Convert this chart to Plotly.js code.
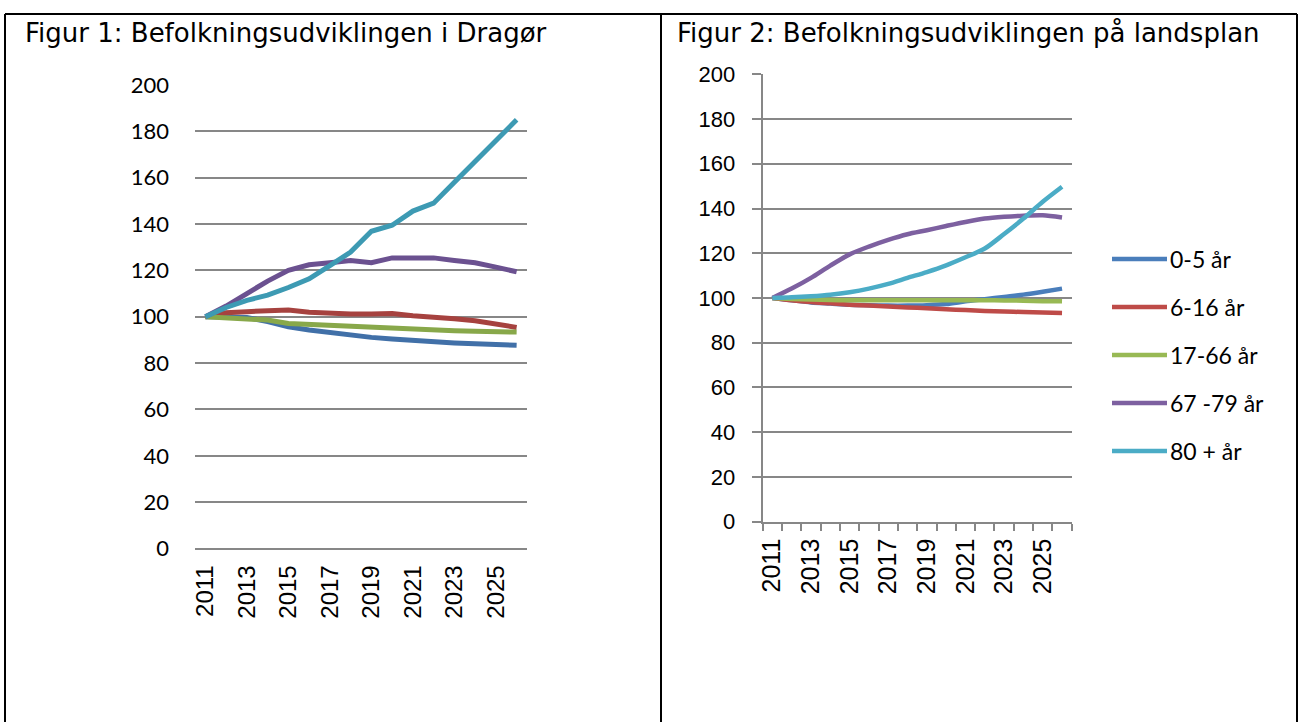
<!DOCTYPE html>
<html>
<head>
<meta charset="utf-8">
<script src="https://cdn.plot.ly/plotly-3.0.1.min.js"></script>
<style>
html,body{margin:0;padding:0;background:#fff;}
#chart{width:1300px;height:722px;}
</style>
</head>
<body>
<div id="chart"></div>
<script>
// ---- data ----
const years = [2011,2012,2013,2014,2015,2016,2017,2018,2019,2020,2021,2022,2023,2024,2025,2026];
const labelYears = [2011,2013,2015,2017,2019,2021,2023,2025];
const seriesNames = ['0-5 år','6-16 år','17-66 år','67 -79 år','80 + år'];
const yTicks = [0,20,40,60,80,100,120,140,160,180,200];

// Figur 1: Dragør
const dragor_0_5   = [100,100,99.7,97.9,95.7,94.3,93.1,92.0,91.1,90.4,89.7,89.1,88.7,88.3,88.0,87.7];
const dragor_6_16  = [100,101.7,102.2,102.8,102.9,101.9,101.4,101.2,101.2,101.4,100.4,100.0,99.1,98.3,96.9,95.4];
const dragor_17_66 = [100,99.7,99.4,98.6,97.1,96.7,96.3,95.9,95.4,94.7,94.7,94.3,94.0,93.7,93.6,93.4];
const dragor_67_79 = [100,104.6,110.0,115.4,120.0,122.4,123.3,124.3,123.3,125.4,125.4,125.4,124.3,123.3,121.4,119.4];
const dragor_80    = [100,104.0,107.1,109.3,112.6,116.4,122.1,127.9,136.9,139.5,145.6,149.0,158.0,167.0,176.0,185.0];

// Figur 2: landsplan
const land_0_5   = [100,99.0,98.0,97.5,97.0,96.8,96.6,96.6,96.8,97.3,98.5,99.5,100.5,101.5,102.8,104.2];
const land_6_16  = [100,99.0,98.2,97.6,97.0,96.6,96.2,95.8,95.4,95.0,94.6,94.2,94.0,93.7,93.5,93.3];
const land_17_66 = [100,99.6,99.3,99.1,99.0,99.0,99.0,99.0,99.0,99.0,99.0,99.0,98.9,98.8,98.6,98.5];
const land_67_79 = [100,104.2,109.0,114.5,119.5,123.0,126.0,128.5,130.3,132.2,134.0,135.5,136.3,136.8,137.0,136.0];
const land_80    = [100,100.3,100.8,101.5,102.6,104.2,106.3,109.0,111.6,114.6,118.2,122.1,128.6,135.5,143.0,149.7];

const titles = ['Figur 1: Befolkningsudviklingen i Dragør','Figur 2: Befolkningsudviklingen på landsplan'];

// ---- styles ----
const leftColors  = ['#4170A8','#A6423F','#88A84A','#6B5190','#3D9AB3'];
const rightColors = ['#4A7EBB','#BE4B48','#98B954','#7D60A0','#4BACC6'];
const gridColor = '#878787';

const dragorSeries = [dragor_0_5, dragor_6_16, dragor_17_66, dragor_67_79, dragor_80];
const landSeries   = [land_0_5, land_6_16, land_17_66, land_67_79, land_80];

const traces = [];
dragorSeries.forEach((vals, i) => {
  traces.push({
    x: years, y: vals, name: seriesNames[i], type: 'scatter', mode: 'lines',
    xaxis: 'x', yaxis: 'y', showlegend: false,
    line: {color: leftColors[i], width: 5, shape: 'linear'}
  });
});
landSeries.forEach((vals, i) => {
  traces.push({
    x: years, y: vals, name: seriesNames[i], type: 'scatter', mode: 'lines',
    xaxis: 'x2', yaxis: 'y2', showlegend: false,
    line: {color: rightColors[i], width: 4.5, shape: 'spline', smoothing: 0.8}
  });
});

const W = 1300, H = 722;
const px = v => v / W;
const py = v => 1 - v / H;

const boundaries = [];
for (let i = 0; i <= years.length; i++) boundaries.push(years[0] - 0.5 + i);

const shapes = [
  // table borders
  {type:'line', xref:'paper', yref:'paper', x0:px(5), x1:px(1297), y0:py(14), y1:py(14), line:{color:'#000', width:2}},
  {type:'line', xref:'paper', yref:'paper', x0:px(5), x1:px(5), y0:py(14), y1:py(722), line:{color:'#000', width:2}},
  {type:'line', xref:'paper', yref:'paper', x0:px(661), x1:px(661), y0:py(14), y1:py(722), line:{color:'#000', width:2}},
  {type:'line', xref:'paper', yref:'paper', x0:px(1297), x1:px(1297), y0:py(14), y1:py(722), line:{color:'#000', width:2}}
];
const titleFont = {family:'DejaVu Sans, Liberation Sans, Arial, sans-serif', size:26, color:'#000'};
const annotations = [
  {text: titles[0], xref:'paper', yref:'paper', x:px(23), y:py(33), xanchor:'left', yanchor:'middle', showarrow:false, font: titleFont},
  {text: titles[1], xref:'paper', yref:'paper', x:px(675), y:py(33), xanchor:'left', yanchor:'middle', showarrow:false, font: titleFont}
];
// manual legend for figure 2
seriesNames.forEach((name, i) => {
  const yy = 259 + i * 48;
  shapes.push({type:'line', xref:'paper', yref:'paper', x0:px(1112), x1:px(1167), y0:py(yy), y1:py(yy),
    line:{color: rightColors[i], width: 4.5}});
  annotations.push({text: name, xref:'paper', yref:'paper', x:px(1168), y:py(yy), xanchor:'left', yanchor:'middle',
    showarrow:false, font:{family:'Lato, sans-serif', size:23, color:'#000'}});
});

const layout = {
  width: W, height: H,
  margin: {l:0, r:0, t:0, b:0},
  paper_bgcolor: '#fff', plot_bgcolor: 'rgba(0,0,0,0)',
  showlegend: false,
  xaxis: {
    domain: [px(195), px(527)], anchor: 'y',
    range: [2010.5, 2026.5], tickmode: 'array', tickvals: labelYears, ticktext: labelYears.map(String),
    tickangle: -90, showgrid: false, zeroline: false, showline: false, ticks: '',
    ticklabelstandoff: 11,
    tickfont: {family:'Liberation Sans, Arial, sans-serif', size:24, color:'#000'}
  },
  yaxis: {
    domain: [py(548.5), py(85)], anchor: 'x',
    range: [0, 200], tickmode: 'array', tickvals: yTicks,
    showgrid: true, gridcolor: gridColor, gridwidth: 2,
    zeroline: true, zerolinecolor: gridColor, zerolinewidth: 2,
    showline: false, ticks: '', ticklabelstandoff: 25,
    tickfont: {family:'Lato, sans-serif', size:22, color:'#000'}
  },
  xaxis2: {
    domain: [px(762.7), px(1071.7)], anchor: 'y2',
    range: [2010.5, 2026.5], tickmode: 'array', tickvals: labelYears, ticktext: labelYears.map(String),
    tickangle: -90, showgrid: false, zeroline: false,
    showline: true, linecolor: gridColor, linewidth: 2, ticks: '',
    minor: {tickmode:'array', tickvals: boundaries, ticks:'outside', ticklen: 7, tickwidth: 2, tickcolor: gridColor, showgrid:false},
    ticklabelstandoff: 5,
    tickfont: {family:'Liberation Sans, Arial, sans-serif', size:25, color:'#000'}
  },
  yaxis2: {
    domain: [py(521.7), py(74.3)], anchor: 'x2',
    range: [0, 200], tickmode: 'array', tickvals: yTicks,
    showgrid: true, gridcolor: gridColor, gridwidth: 2,
    zeroline: false, showline: true, linecolor: gridColor, linewidth: 2,
    ticks: 'outside', ticklen: 9, tickwidth: 2, tickcolor: gridColor, ticklabelstandoff: 12,
    tickfont: {family:'Liberation Sans, Arial, sans-serif', size:22, color:'#000'}
  },
  shapes: shapes,
  annotations: annotations
};

Plotly.newPlot('chart', traces, layout, {displayModeBar:false, staticPlot:true});
</script>
</body>
</html>
